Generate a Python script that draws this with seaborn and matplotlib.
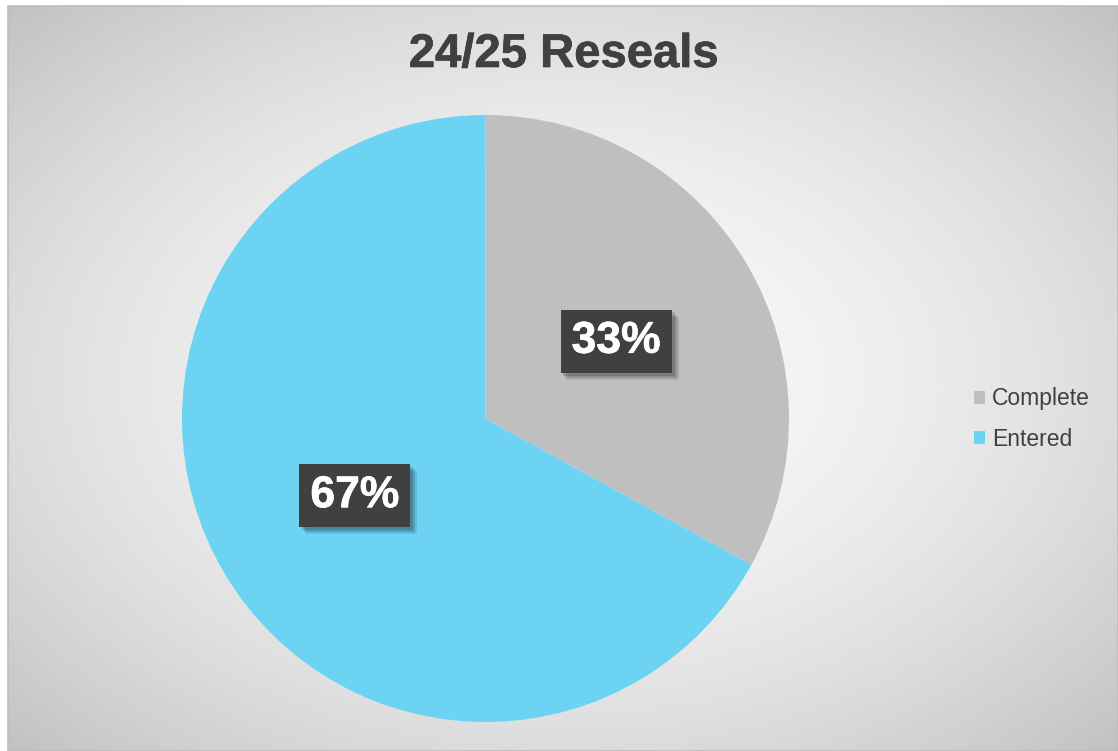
import numpy as np
import matplotlib
matplotlib.use("Agg")
import matplotlib.pyplot as plt
import matplotlib.patheffects as pe
from matplotlib.patches import Rectangle
import seaborn as sns

# ---- data ----
categories = ["Complete", "Entered"]
values = [33, 67]
colors = ["#BFBFBF", "#6DD3F3"]
title = "24/25 Reseals"

sns.set_theme(style="white")
plt.rcParams["font.family"] = ["Liberation Sans", "DejaVu Sans"]
palette = sns.color_palette(colors)


def fatten(color, w):
    return [pe.withStroke(linewidth=w, foreground=color)]


W, H = 1118, 751
fig = plt.figure(figsize=(W / 100, H / 100), dpi=100)
fig.patch.set_facecolor("white")

# background radial gradient of the chart area
bg = fig.add_axes([8 / W, 0, (W - 8) / W, (H - 6) / H], zorder=0)
gx = np.linspace(-1, 1, 600)
gy = np.linspace(-1, 1, 400)
X, Y = np.meshgrid(gx, gy)
R = np.sqrt(X ** 2 + Y ** 2) / np.sqrt(2)
val = 249 - (249 - 193) * R ** 1.8
bg.imshow(val, cmap="gray", vmin=0, vmax=255, aspect="auto", extent=(0, 1, 0, 1),
          interpolation="bilinear")
bg.set_axis_off()
bg.add_patch(Rectangle((0, 0), 1, 1, transform=bg.transAxes, fill=False,
                       edgecolor="#BDBDBD", linewidth=1.2, clip_on=False))

# pie
cx, cy, r = 485.5, 418.5, 303.5
ax = fig.add_axes([(cx - r) / W, (H - cy - r) / H, 2 * r / W, 2 * r / H], zorder=1)
ax.set_facecolor("none")
wedges, texts, autotexts = ax.pie(
    values, colors=palette, startangle=90, counterclock=False, radius=1,
    autopct="%1.0f%%", pctdistance=0.5,
    wedgeprops=dict(linewidth=0),
    textprops=dict(color="white", fontsize=32, fontweight="bold"),
)
ax.set_xlim(-1, 1)
ax.set_ylim(-1, 1)
ax.set_aspect("equal")
ax.set_axis_off()

for t in autotexts:
    t.set_path_effects(fatten("white", 0.5))
    t.set_bbox(dict(boxstyle="square,pad=0.25", facecolor="#404040",
                    edgecolor="none", linewidth=0))
    t.get_bbox_patch().set_path_effects([
        pe.SimplePatchShadow(offset=(5, -5), shadow_rgbFace="black", alpha=0.10),
        pe.SimplePatchShadow(offset=(3.5, -3.5), shadow_rgbFace="black", alpha=0.15),
        pe.SimplePatchShadow(offset=(2, -2), shadow_rgbFace="black", alpha=0.15),
        pe.Normal(),
    ])

# title
fig.text(564 / W, 1 - 55 / H, title, ha="center", va="center",
         fontsize=34, fontweight="bold", color="#404040",
         path_effects=fatten("#404040", 0.5))

# legend
leg = fig.legend(wedges, categories, loc="center left",
                 bbox_to_anchor=(974 / W, 1 - 419 / H),
                 frameon=False, fontsize=16.5, handlelength=0.5, handleheight=0.5,
                 handletextpad=0.3, labelspacing=0.75, borderpad=0, borderaxespad=0)
for txt in leg.get_texts():
    txt.set_color("#404040")

fig.savefig("out.png", dpi=100)
